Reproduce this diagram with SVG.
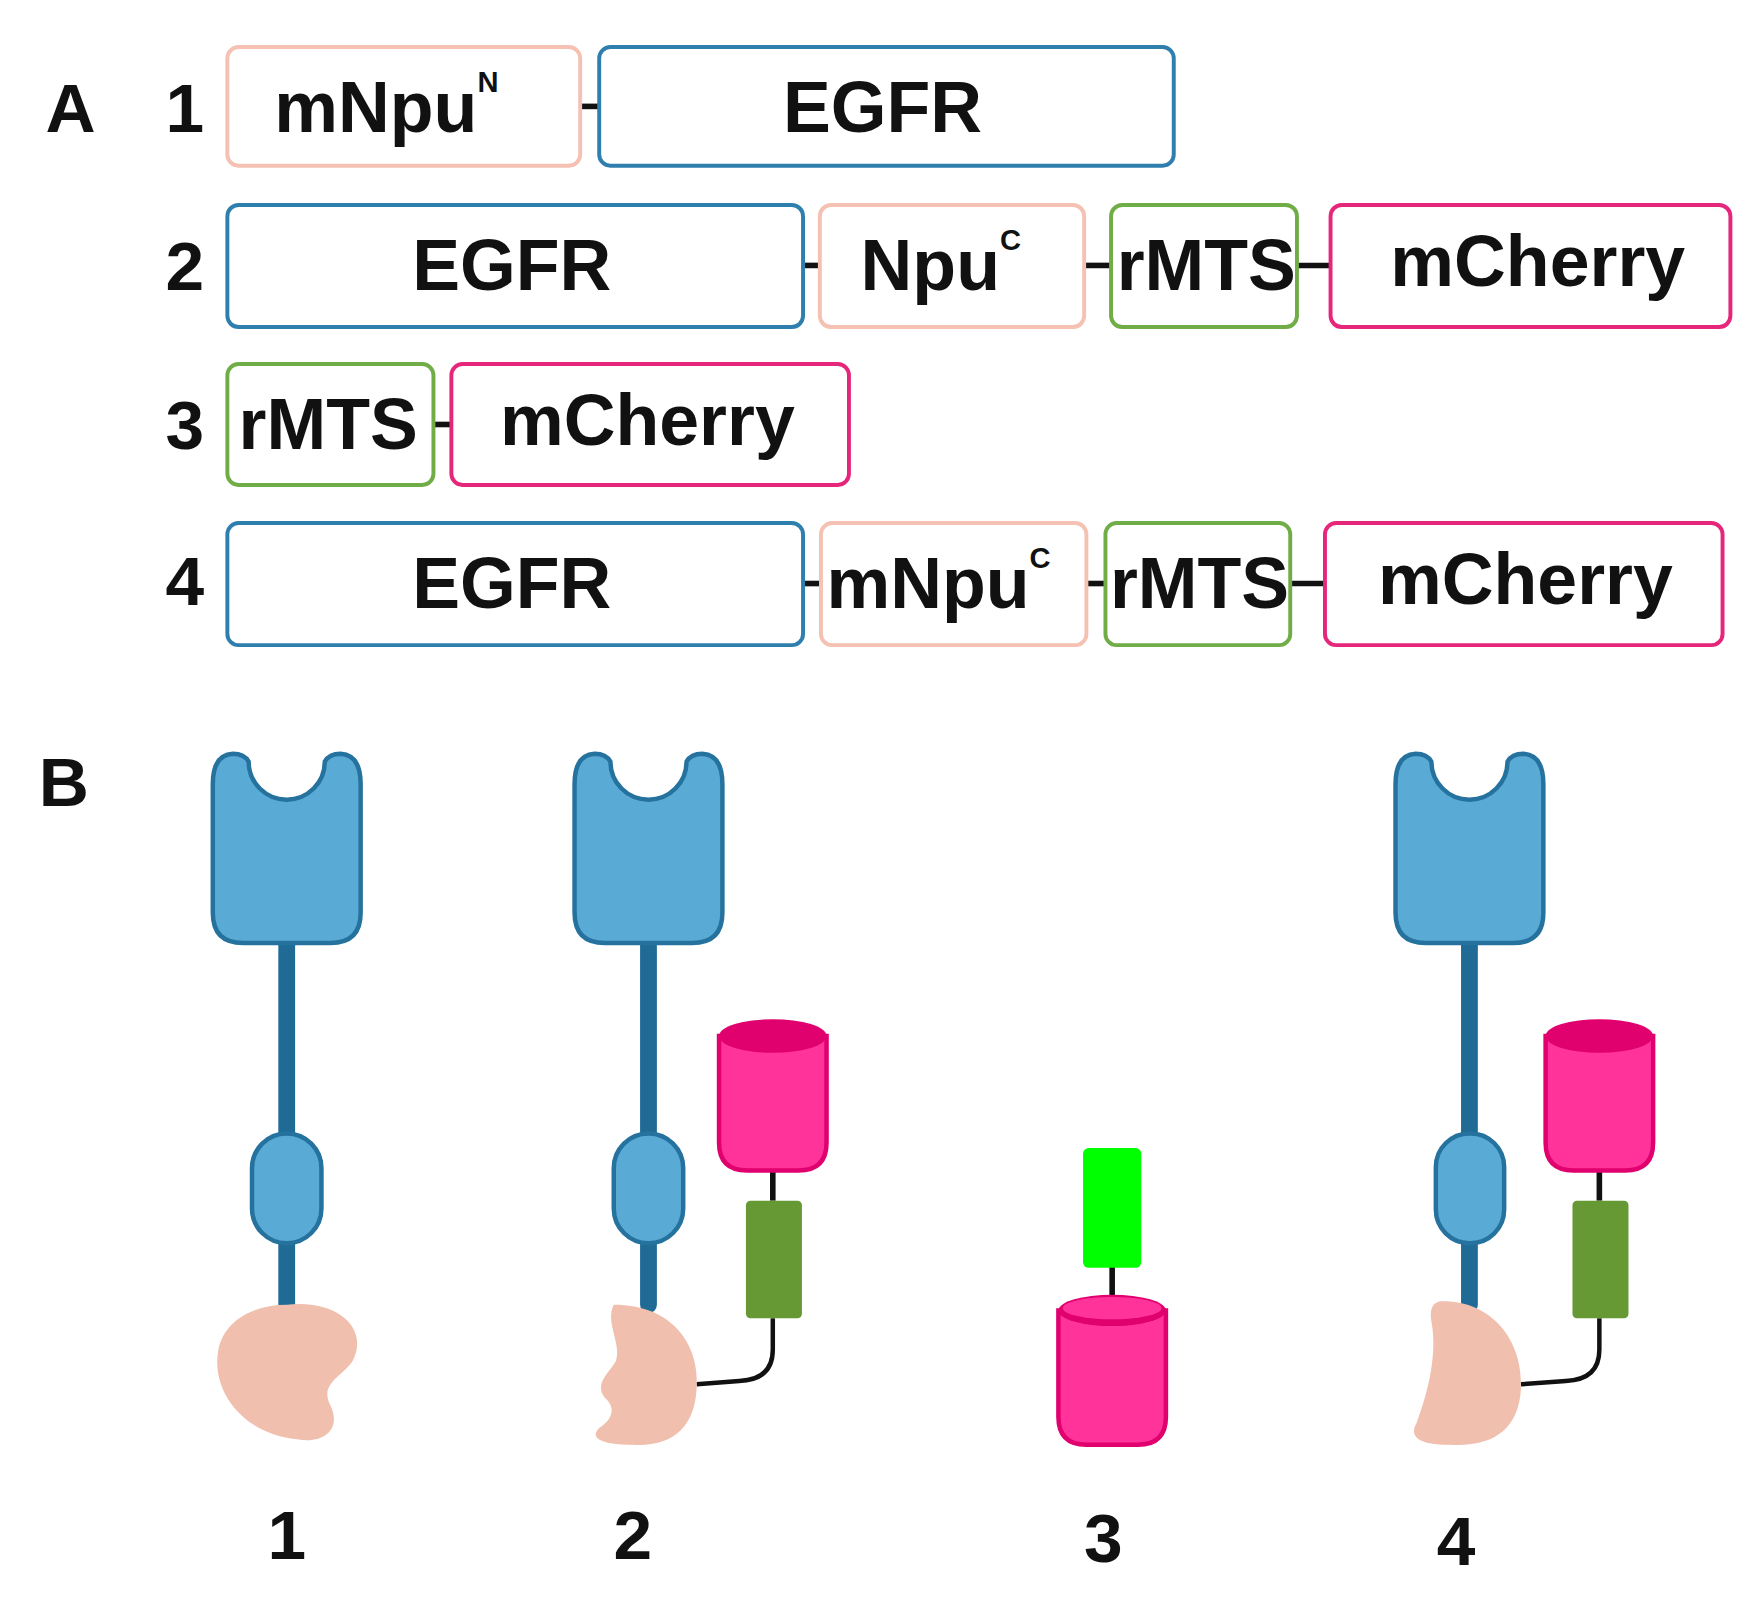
<svg xmlns="http://www.w3.org/2000/svg" width="1757" height="1611" viewBox="0 0 1757 1611">
<style>
.t{font-family:"Liberation Sans",Arial,sans-serif;font-weight:bold;font-size:64px;fill:#111;text-anchor:middle}
.lab{font-family:"Liberation Sans",Arial,sans-serif;font-weight:bold;font-size:62px;fill:#111;text-anchor:middle}
.bx{fill:#fff;stroke-width:3.5}
.pk{stroke:#f4c1b3}.bl{stroke:#2f7fae}.gr{stroke:#70ad47}.mg{stroke:#e5267b}
.ln{stroke:#111;stroke-width:5}
.head{fill:#5aaad6;stroke:#26729e;stroke-width:4}
.stalk{stroke:#1f6b96;stroke-width:15;stroke-linecap:round}
.blob{fill:#f0bfae}
.cyl{fill:#ff3399;stroke:#e0006e;stroke-width:4}
.top{fill:#e0006e}
.wire{fill:none;stroke:#111;stroke-width:4}
</style>
<rect width="1757" height="1611" fill="#fff"/>
<g transform="scale(1.12)">
<g id="panelA">
<text class="lab" x="63" y="118">A</text>
<text class="lab" x="165" y="118">1</text>
<text class="lab" x="165" y="259">2</text>
<text class="lab" x="165" y="401">3</text>
<text class="lab" x="165" y="540">4</text>
</g>
<g id="connectors">
<line class="ln" x1="518" y1="95" x2="535" y2="95"/>
<line class="ln" x1="717" y1="237" x2="732" y2="237"/>
<line class="ln" x1="968" y1="237" x2="992" y2="237"/>
<line class="ln" x1="1158" y1="237" x2="1188" y2="237"/>
<line class="ln" x1="387" y1="379" x2="403" y2="379"/>
<line class="ln" x1="717" y1="521" x2="733" y2="521"/>
<line class="ln" x1="970" y1="521" x2="987" y2="521"/>
<line class="ln" x1="1152" y1="521" x2="1183" y2="521"/>
<line class="ln" x1="690" y1="1045" x2="690" y2="1072" stroke-width="4"/>
<line class="ln" x1="1428" y1="1045" x2="1428" y2="1072" stroke-width="4"/>
<line class="ln" x1="993" y1="1130" x2="993" y2="1160" stroke-width="4"/>
<path class="wire" d="M690,1177 L690,1205 Q690,1232 660,1233 L622,1236"/>
<path class="wire" d="M1428,1177 L1428,1205 Q1428,1232 1398,1233 L1358,1236"/>
</g>
<g id="r1-mNpuN"><rect class="bx pk" x="203" y="42" width="315" height="106" rx="10"/><text class="t" x="345" y="118">mNpu<tspan font-size="26" dy="-36">N</tspan></text></g>
<g id="r1-EGFR"><rect class="bx bl" x="535" y="42" width="513" height="106" rx="10"/><text class="t" x="788" y="118">EGFR</text></g>
<g id="r2-EGFR"><rect class="bx bl" x="203" y="183" width="514" height="109" rx="10"/><text class="t" x="457" y="259">EGFR</text></g>
<g id="r2-NpuC"><rect class="bx pk" x="732" y="183" width="236" height="109" rx="10"/><text class="t" x="840" y="259">Npu<tspan font-size="26" dy="-36">C</tspan></text></g>
<g id="r2-rMTS"><rect class="bx gr" x="992" y="183" width="166" height="109" rx="10"/><text class="t" x="1077" y="259">rMTS</text></g>
<g id="r2-mCherry"><rect class="bx mg" x="1188" y="183" width="357" height="109" rx="10"/><text class="t" x="1373" y="255">mCherry</text></g>
<g id="r3-rMTS"><rect class="bx gr" x="203" y="325" width="184" height="108" rx="10"/><text class="t" x="293" y="401">rMTS</text></g>
<g id="r3-mCherry"><rect class="bx mg" x="403" y="325" width="355" height="108" rx="10"/><text class="t" x="578" y="397">mCherry</text></g>
<g id="r4-EGFR"><rect class="bx bl" x="203" y="467" width="514" height="109" rx="10"/><text class="t" x="457" y="543">EGFR</text></g>
<g id="r4-mNpuC"><rect class="bx pk" x="733" y="467" width="237" height="109" rx="10"/><text class="t" x="838" y="543">mNpu<tspan font-size="26" dy="-36">C</tspan></text></g>
<g id="r4-rMTS"><rect class="bx gr" x="987" y="467" width="165" height="109" rx="10"/><text class="t" x="1071" y="543">rMTS</text></g>
<g id="r4-mCherry"><rect class="bx mg" x="1183" y="467" width="355" height="109" rx="10"/><text class="t" x="1362" y="539">mCherry</text></g>

<g id="panelB">
<text class="lab" x="57" y="720">B</text>
<text class="lab" x="256" y="1392">1</text>
<text class="lab" x="565" y="1392">2</text>
<text class="lab" x="985" y="1395">3</text>
<text class="lab" x="1300" y="1397">4</text>
</g>
<g id="receptor1">
<line class="stalk" x1="256" y1="840" x2="256" y2="1165"/>
<rect class="head" x="225" y="1012" width="62" height="98" rx="31"/>
<path class="head" d="M190,700 Q190,674 208,673 Q218,673 222,680 A34,34 0 0 0 290,680 Q294,673 304,673 Q322,674 322,700 L322,815 Q322,842 295,842 L217,842 Q190,842 190,815 Z"/>
<path class="blob" d="M256,1165 C300,1160 330,1185 315,1215 C305,1230 285,1235 295,1255 C305,1275 290,1290 265,1285 C215,1280 188,1240 195,1205 C200,1180 225,1165 256,1165 Z"/>
</g>
<g id="receptor2">
<line class="stalk" x1="579" y1="840" x2="579" y2="1165"/>
<rect class="head" x="548" y="1012" width="62" height="98" rx="31"/>
<path class="head" d="M513,700 Q513,674 531,673 Q541,673 545,680 A34,34 0 0 0 613,680 Q617,673 627,673 Q645,674 645,700 L645,815 Q645,842 618,842 L540,842 Q513,842 513,815 Z"/>
<path class="blob" d="M548,1165 C600,1165 625,1200 622,1240 C620,1275 600,1292 565,1290 C540,1290 525,1285 535,1275 C550,1265 548,1255 540,1248 C530,1235 545,1225 550,1215 C555,1200 540,1180 548,1165 Z"/>
<path class="cyl" d="M642,925 L642,1020 Q642,1045 667,1045 L713,1045 Q738,1045 738,1020 L738,925 Z"/>
<ellipse class="top" cx="690" cy="925" rx="48" ry="15"/>
<rect x="666" y="1072" width="50" height="105" rx="4" fill="#669933"/>
</g>
<g id="construct3">
<rect x="967" y="1025" width="52" height="107" rx="5" fill="#00ff00"/>
<path class="cyl" d="M945,1170 L945,1265 Q945,1290 970,1290 L1016,1290 Q1041,1290 1041,1265 L1041,1170 Z"/>
<ellipse class="top" cx="993" cy="1170" rx="48" ry="14"/>
<ellipse cx="993" cy="1168" rx="44" ry="10" fill="#ff3399"/>
</g>
<g id="receptor4">
<line class="stalk" x1="1312" y1="840" x2="1312" y2="1165"/>
<rect class="head" x="1282" y="1012" width="61" height="98" rx="30"/>
<path class="head" d="M1246,700 Q1246,674 1264,673 Q1274,673 1278,680 A34,34 0 0 0 1346,680 Q1350,673 1360,673 Q1378,674 1378,700 L1378,815 Q1378,842 1351,842 L1273,842 Q1246,842 1246,815 Z"/>
<path class="blob" d="M1285,1162 C1330,1160 1360,1195 1358,1240 C1356,1275 1335,1292 1295,1290 C1265,1290 1258,1282 1265,1270 C1280,1230 1282,1200 1278,1180 C1276,1168 1280,1163 1285,1162 Z"/>
<path class="cyl" d="M1380,925 L1380,1020 Q1380,1045 1405,1045 L1451,1045 Q1476,1045 1476,1020 L1476,925 Z"/>
<ellipse class="top" cx="1428" cy="925" rx="48" ry="15"/>
<rect x="1404" y="1072" width="50" height="105" rx="4" fill="#669933"/>
</g>
</g>
</svg>
